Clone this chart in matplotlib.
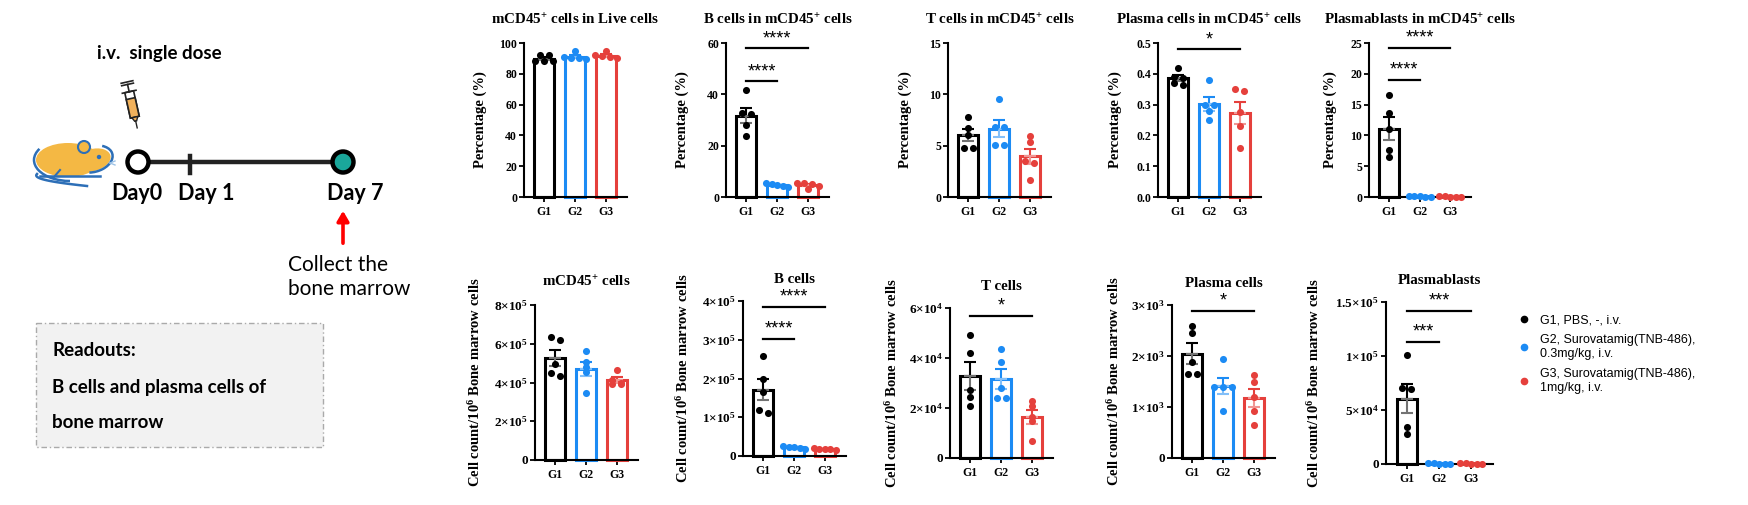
import numpy as np
import matplotlib
matplotlib.use('Agg')
import matplotlib.pyplot as plt
from matplotlib.patches import Circle, Ellipse, Polygon, Rectangle, Arc
from matplotlib.lines import Line2D

plt.rcParams['font.family'] = ['Liberation Serif', 'DejaVu Serif']
plt.rcParams['font.weight'] = 'bold'
plt.rcParams['mathtext.fontset'] = 'custom'
plt.rcParams['mathtext.rm'] = 'Liberation Serif:bold'
plt.rcParams['mathtext.it'] = 'Liberation Serif:italic:bold'
plt.rcParams['mathtext.bf'] = 'Liberation Serif:bold'

groups = ['G1', 'G2', 'G3']
colors = ['#000000', '#1C8BF4', '#E5403C']
legend_labels = ['G1, PBS, -, i.v.',
                 'G2, Surovatamig(TNB-486),\n0.3mg/kg, i.v.',
                 'G3, Surovatamig(TNB-486),\n1mg/kg, i.v.']

# ---- top row: percentages ----
top_titles = ['mCD45$^{+}$ cells in Live cells', 'B cells in mCD45$^{+}$ cells',
              'T cells in mCD45$^{+}$ cells', 'Plasma cells in mCD45$^{+}$ cells',
              'Plasmablasts in mCD45$^{+}$ cells']
pct_cd45 = [[91.9, 91.9, 88.6, 88.6, 88.6], [94.6, 90.6, 90.2, 89.6, 90.0], [94.6, 92.0, 91.8, 90.4, 90.6]]
pct_b = [[41.6, 32.6, 32.2, 28.0, 23.8], [5.3, 4.9, 4.6, 4.3, 4.0], [5.6, 5.4, 4.9, 4.2, 3.2]]
pct_t = [[7.8, 6.7, 6.0, 4.8, 4.8], [9.5, 6.8, 6.8, 5.1, 5.1], [5.9, 5.4, 3.5, 3.3, 1.7]]
pct_plasma = [[0.42, 0.39, 0.385, 0.37, 0.365], [0.38, 0.30, 0.30, 0.28, 0.25], [0.35, 0.345, 0.275, 0.23, 0.16]]
pct_pb = [[16.5, 13.7, 11.0, 7.6, 6.5], [0.12, 0.10, 0.10, 0.08, 0.08], [0.10, 0.09, 0.08, 0.08, 0.07]]
top_data = [pct_cd45, pct_b, pct_t, pct_plasma, pct_pb]
top_ymax = [100, 60, 15, 0.5, 25]
top_ystep = [20, 20, 5, 0.1, 5]
top_sig = [[], [(0, 1, 45.2, '****'), (0, 2, 58.0, '****')], [],
           [(0, 2, 0.48, '*')], [(0, 1, 19.0, '****'), (0, 2, 24.2, '****')]]

# ---- bottom row: counts per 10^6 bone marrow cells ----
bot_titles = ['mCD45$^{+}$ cells', 'B cells', 'T cells', 'Plasma cells', 'Plasmablasts']
cnt_cd45 = [[6.33e5, 6.19e5, 4.94e5, 4.49e5, 4.34e5], [5.62e5, 5.05e5, 4.78e5, 4.56e5, 3.45e5],
            [4.65e5, 4.15e5, 4.0e5, 3.9e5, 3.9e5]]
cnt_b = [[2.57e5, 2.0e5, 1.66e5, 1.19e5, 1.10e5], [2.7e4, 2.4e4, 2.2e4, 2.0e4, 1.9e4],
         [2.0e4, 1.9e4, 1.8e4, 1.7e4, 1.6e4]]
cnt_t = [[4.93e4, 4.2e4, 2.71e4, 2.43e4, 2.1e4], [4.37e4, 3.84e4, 2.8e4, 2.4e4, 2.4e4],
         [2.29e4, 2.09e4, 1.65e4, 1.47e4, 0.69e4]]
cnt_plasma = [[2590, 2460, 1890, 1640, 1640], [1940, 1400, 1400, 1390, 920], [1630, 1500, 1190, 930, 640]]
cnt_pb = [[1.01e5, 7.07e4, 6.9e4, 3.4e4, 2.75e4], [600, 500, 450, 400, 350], [550, 500, 450, 400, 350]]
bot_data = [cnt_cd45, cnt_b, cnt_t, cnt_plasma, cnt_pb]
bot_ymax = [8e5, 4e5, 6e4, 3e3, 1.5e5]
bot_ystep = [2e5, 1e5, 2e4, 1e3, 5e4]
bot_sig = [[], [(0, 1, 3.03e5, '****'), (0, 2, 3.85e5, '****')], [(0, 2, 5.69e4, '*')],
           [(0, 2, 2.89e3, '*')], [(0, 1, 1.13e5, '***'), (0, 2, 1.42e5, '***')]]

W, H = 1748, 505
fig = plt.figure(figsize=(W / 100, H / 100), dpi=100)

# pixel boxes: (left, top, width, bottom)
top_boxes = [(524, 43, 103, 197), (726, 43, 103, 197), (948, 43, 103, 197),
             (1158, 43, 103, 197), (1369, 43, 102, 197)]
bot_boxes = [(535, 305, 103, 460), (743, 301, 103, 456), (950, 308, 103, 458),
             (1172, 305, 103, 458), (1386, 302, 107, 464)]


def lighten(c, f=0.5):
    rgb = np.array(matplotlib.colors.to_rgb(c))
    return tuple(rgb + (1 - rgb) * f)


def swarm_offsets(vals, px_y, px_x, row_px=4.0, step=9.0, maxhalf=11.0):
    vals = np.asarray(vals, dtype=float)
    ys = vals * px_y
    order = np.argsort(-ys)
    offs = np.zeros(len(vals))
    rows = []
    for i in order:
        if rows and abs(ys[rows[-1][0]] - ys[i]) < row_px:
            rows[-1].append(i)
        else:
            rows.append([i])
    for r in rows:
        n = len(r)
        o = (np.arange(n) - (n - 1) / 2) * step
        if n > 1 and o.max() > maxhalf:
            o = o * maxhalf / o.max()
        for k, i in enumerate(r):
            offs[i] = o[k] / px_x
    return offs


def fmt_sci(v):
    if v == 0:
        return '0'
    e = int(np.floor(np.log10(v) + 1e-9))
    m = v / 10 ** e
    ms = ('%g' % round(m, 2))
    return ms + r'$\times$10$^{%d}$' % e


def draw_panel(box, data, ymax, ystep, sig, title, ylabel, sci, ylab_off, tick_fs):
    l, t, w, b = box
    ax = fig.add_axes([l / W, 1 - b / H, w / W, (b - t) / H])
    x = np.arange(3)
    ax.set_xlim(-0.65, 2.68)
    ax.set_ylim(0, ymax)
    px_x = w / 3.33
    px_y = (b - t) / ymax
    for i, vals in enumerate(data):
        v = np.asarray(vals)
        m = v.mean()
        sem = v.std(ddof=1) / np.sqrt(len(v))
        ax.bar(x[i], m, width=0.63, facecolor='white', edgecolor=colors[i],
               linewidth=2.2, zorder=2, clip_on=False)
        ax.errorbar(x[i], m, yerr=[[0], [sem]], color=colors[i], capsize=4,
                    elinewidth=1.5, capthick=1.5, zorder=3, clip_on=False)
        ax.errorbar(x[i], m, yerr=[[sem], [0]], color=lighten(colors[i], 0.45), capsize=4,
                    elinewidth=1.5, capthick=1.5, zorder=3, clip_on=False)
        offs = swarm_offsets(v, px_y, px_x)
        ax.scatter(x[i] + offs, v, s=26, color=colors[i], zorder=4,
                   linewidths=0, clip_on=False)
    for a, c, y, s in sig:
        ax.plot([x[a], x[c]], [y, y], color='black', lw=1.6, clip_on=False, zorder=5)
        ax.text((x[a] + x[c]) / 2, y + 9.5 / px_y, s, ha='center', va='center',
                fontsize=13, family='Liberation Sans', fontweight='normal')
    ticks = np.arange(0, ymax + ystep / 2, ystep)
    ax.set_yticks(ticks)
    if sci:
        ax.set_yticklabels([fmt_sci(v) for v in ticks])
    elif ystep < 1:
        ax.set_yticklabels(['%.1f' % v for v in ticks])
    else:
        ax.set_yticklabels(['%d' % v for v in ticks])
    ax.set_xticks(x)
    ax.set_xticklabels(groups)
    for sp in ['top', 'right']:
        ax.spines[sp].set_visible(False)
    for sp in ['left', 'bottom']:
        ax.spines[sp].set_linewidth(1.5)
    ax.tick_params(axis='y', length=3.5, width=1.3, pad=1.5, labelsize=tick_fs)
    ax.tick_params(axis='x', length=3.5, width=1.3, pad=3, labelsize=8.5)
    ax.set_title(title, fontsize=10.8, fontweight='bold', pad=13)
    ax.set_ylabel(ylabel, fontsize=10.5, fontweight='bold')
    ax.yaxis.set_label_coords(-ylab_off / w, 0.5)
    return ax


# background axes for the study schematic and legend
bg = fig.add_axes([0, 0, 1, 1])
bg.set_xlim(0, W)
bg.set_ylim(H, 0)
bg.axis('off')

sans = ['Lato', 'DejaVu Sans']
bg.text(97, 53, 'i.v.  single dose', fontsize=13.5, fontweight='bold', family=sans,
        ha='left', va='center')

# syringe
o = np.array([127.0, 82.0])
d = np.array([10.0, 45.0]); d /= np.linalg.norm(d)
n = np.array([d[1], -d[0]])
P = lambda t, s: o + t * d + s * n
bg.plot(*zip(P(0, -6), P(0, 6)), color='#222222', lw=1.2)
bg.plot(*zip(P(2.5, -6), P(2.5, 6)), color='#222222', lw=1.2)
bg.plot(*zip(P(2.5, 0), P(10, 0)), color='#222222', lw=1.2)
bg.plot(*zip(P(10, -7), P(10, 7)), color='#222222', lw=1.2)
bg.add_patch(Polygon([P(10, -4.5), P(10, 4.5), P(36, 4.5), P(36, -4.5)], closed=True,
                     facecolor='white', edgecolor='#222222', lw=1.2))
bg.add_patch(Polygon([P(17, -4.5), P(17, 4.5), P(36, 4.5), P(36, -4.5)], closed=True,
                     facecolor='#F2B25C', edgecolor='#222222', lw=1.2))
bg.add_patch(Polygon([P(36, -3), P(36, 3), P(40, 1), P(40, -1)], closed=True,
                     facecolor='#F2B25C', edgecolor='#222222', lw=1.0))
bg.plot(*zip(P(40, 0), P(47, 0)), color='#222222', lw=1.0)

# mouse
mblue = '#2D6FB7'
morange = '#F4B844'
bg.add_patch(Ellipse((68, 160), 64, 34, facecolor=morange, edgecolor='none', zorder=2))
bg.add_patch(Arc((70, 160), 72, 42, theta1=90, theta2=200, color=mblue, lw=1.8, zorder=3))
bg.add_patch(Ellipse((93, 160), 36, 22, angle=-15, facecolor=morange, edgecolor='none', zorder=2))
bg.add_patch(Arc((93, 159), 40, 26, angle=-15, theta1=-40, theta2=120, color=mblue, lw=1.8, zorder=3))
bg.add_patch(Circle((84, 147), 6, facecolor=morange, edgecolor=mblue, lw=1.5, zorder=4))
bg.add_patch(Circle((99, 157), 1.5, color=mblue, zorder=5))
bg.plot([110, 115], [163, 161], color='#9EC3E6', lw=1.0, zorder=5)
bg.plot([110, 115], [163, 165], color='#9EC3E6', lw=1.0, zorder=5)
bg.plot([40, 100], [176, 176], color=mblue, lw=1.8, zorder=3)
bg.plot([54, 60], [177, 170], color=mblue, lw=1.5, zorder=3)
tt = np.linspace(0, 1, 30)
bg.plot(37 - 4 * np.sin(np.pi * tt) + 50 * tt ** 2, 174 + 12 * tt, color=mblue, lw=1.8, zorder=3)

# timeline
bg.plot([138, 343], [162, 162], color='#222222', lw=3.2, zorder=2)
bg.plot([190, 190], [156, 173], color='#222222', lw=3.2, zorder=2)
bg.add_patch(Circle((138, 162), 10.5, facecolor='white', edgecolor='black', lw=3.2, zorder=3))
bg.add_patch(Circle((343, 162), 10.5, facecolor='#1AA79B', edgecolor='black', lw=3.2, zorder=3))
for xx, lab in [(137, 'Day0'), (206, 'Day 1'), (355, 'Day 7')]:
    bg.text(xx, 193, lab, fontsize=15.5, fontweight='bold', family=sans, ha='center', va='center')
bg.annotate('', xy=(343, 208), xytext=(343, 246),
            arrowprops=dict(arrowstyle='-|>,head_width=0.35,head_length=0.6', color='#FF0000', lw=2.6))
bg.text(288, 277, 'Collect the\nbone marrow', fontsize=15, fontweight='normal', family=sans,
        ha='left', va='center', linespacing=1.3)

# readouts box
bg.add_patch(Rectangle((36, 323), 287, 124, facecolor='#F2F2F2', edgecolor='#AAAAAA',
                       lw=1.0, ls=(0, (4, 2, 1, 2))))
bg.text(52, 351, 'Readouts:', fontsize=13.5, fontweight='bold', family=sans, va='center')
bg.text(52, 387, 'B cells and plasma cells of', fontsize=13.5, fontweight='bold', family=sans, va='center')
bg.text(52, 423, 'bone marrow', fontsize=13.5, fontweight='bold', family=sans, va='center')

top_lab_off = [37, 37, 36, 36, 32]
bot_lab_off = [52, 52, 50, 50, 64]
for k in range(5):
    draw_panel(top_boxes[k], top_data[k], top_ymax[k], top_ystep[k], top_sig[k],
               top_titles[k], 'Percentage (%)', False, top_lab_off[k], 8.5)
    draw_panel(bot_boxes[k], bot_data[k], bot_ymax[k], bot_ystep[k], bot_sig[k],
               bot_titles[k], 'Cell count/10$^{6}$ Bone marrow cells', True, bot_lab_off[k], 9.5)

handles = [Line2D([], [], marker='o', ls='', color=c, markersize=4.5) for c in colors]
fig.legend(handles, legend_labels, loc='upper left', bbox_to_anchor=(1508 / W, 1 - 303 / H),
           frameon=False, handlelength=0.8, handletextpad=0.9, labelspacing=0.65,
           prop={'family': 'Liberation Sans', 'size': 9, 'weight': 'normal'})

fig.savefig('out.png', dpi=100)
